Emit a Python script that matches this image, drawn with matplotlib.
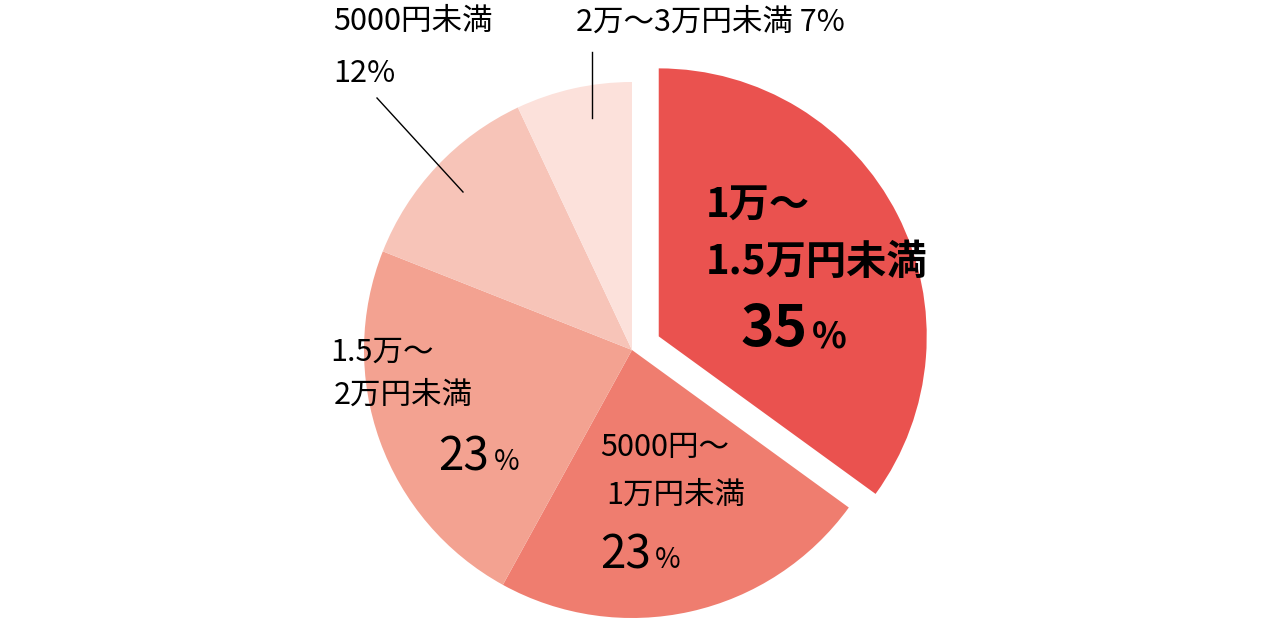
import matplotlib
matplotlib.use("Agg")
import matplotlib.pyplot as plt

plt.rcParams['font.family'] = ['Noto Sans CJK JP', 'DejaVu Sans']

labels = ["1万～1.5万円未満", "5000円～1万円未満", "1.5万～2万円未満", "5000円未満", "2万～3万円未満"]
values = [35, 23, 23, 12, 7]
colors = ["#EA524F", "#EF7D6F", "#F3A291", "#F7C4B8", "#FCE1DB"]
explode = [30, 0, 0, 0, 0]

fig = plt.figure(figsize=(12.8, 6.2), dpi=100)
ax = fig.add_axes([0, 0, 1, 1])
ax.pie(values, colors=colors, startangle=90, counterclock=False, explode=explode,
       center=(632, 270), radius=268, wedgeprops=dict(linewidth=0))
ax.set_xlim(0, 1280); ax.set_ylim(0, 620); ax.set_aspect('equal'); ax.axis('off')

def Y(y): return 620 - y

# largest slice
ax.text(706, Y(205), "1万～", fontsize=29, fontweight='bold', va='center', ha='left')
ax.text(706, Y(262), "1.5万円未満", fontsize=29, fontweight='bold', va='center', ha='left')
ax.text(740, Y(330), "35", fontsize=41, fontweight='bold', va='center', ha='left')
ax.text(812, Y(337), "%", fontsize=26, fontweight='bold', va='center', ha='left')

# 5000円～1万円未満
ax.text(600, Y(447), "5000円～", fontsize=22, va='center', ha='left')
ax.text(606, Y(495), "1万円未満", fontsize=22, va='center', ha='left')
ax.text(600, Y(555), "23", fontsize=33, va='center', ha='left')
ax.text(655, Y(560), "%", fontsize=20, va='center', ha='left')

# 1.5万～2万円未満
ax.text(330, Y(352), "1.5万～", fontsize=22, va='center', ha='left')
ax.text(334, Y(395), "2万円未満", fontsize=22, va='center', ha='left')
ax.text(438, Y(457), "23", fontsize=33, va='center', ha='left')
ax.text(494, Y(462), "%", fontsize=20, va='center', ha='left')

# 5000円未満
ax.text(333, Y(22), "5000円未満", fontsize=22, va='center', ha='left')
ax.text(333, Y(74), "12%", fontsize=22, va='center', ha='left')
ax.plot([377, 463], [Y(98), Y(192)], color='black', lw=1)

# 2万～3万円未満
ax.text(576, Y(22), "2万～3万円未満 7%", fontsize=22, va='center', ha='left')
ax.plot([592, 592], [Y(52), Y(118)], color='black', lw=1)

fig.savefig("out.png", dpi=100)
